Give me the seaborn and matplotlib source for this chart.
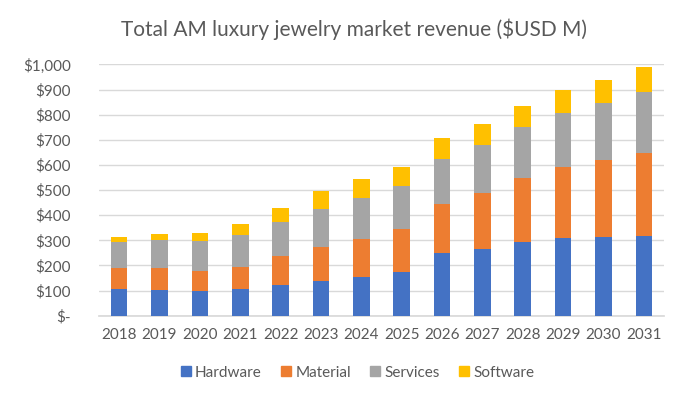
import numpy as np
import pandas as pd
import matplotlib
matplotlib.use("Agg")
import matplotlib.pyplot as plt
from matplotlib.lines import Line2D
import seaborn as sns

years = [2018, 2019, 2020, 2021, 2022, 2023, 2024, 2025, 2026, 2027, 2028, 2029, 2030, 2031]
hardware = [105, 102, 98, 107, 123, 138, 153, 175, 248, 265, 293, 310, 313, 318]
material = [86, 86, 80, 87, 116, 134, 152, 168, 198, 223, 256, 283, 306, 329]
services = [103, 114, 119, 128, 134, 152, 164, 173, 179, 191, 200, 215, 227, 243]
software = [19, 24, 32, 43, 55, 72, 73, 77, 81, 85, 85, 90, 93, 98]

series_names = ["Hardware", "Material", "Services", "Software"]
colors = ["#4472C4", "#ED7D31", "#A5A5A5", "#FFC000"]
title = "Total AM luxury jewelry market revenue ($USD M)"

sns.set_theme(style="white")
plt.rcParams["font.family"] = ["Lato", "DejaVu Sans"]

df = pd.DataFrame({"year": [str(y) for y in years],
                   "Hardware": hardware, "Material": material,
                   "Services": services, "Software": software})
cum = df[series_names].cumsum(axis=1)

fig = plt.figure(figsize=(7, 4), dpi=100)
ax = fig.add_axes([0.1414, 0.2108, 0.8072, 0.6282])

order = [str(y) for y in years]
for name, col in reversed(list(zip(series_names, colors))):
    sns.barplot(x=df["year"], y=cum[name], order=order, color=col,
                width=0.41, ax=ax, saturation=1, linewidth=0, zorder=3)

ax.set_xlim(-0.5, len(years) - 0.5)
ax.set_ylim(0, 1000)
ticks = np.arange(0, 1001, 100)
ax.set_yticks(ticks)
ax.set_yticklabels(["$-" if t == 0 else f"${t:,}" for t in ticks])
ax.yaxis.grid(True, color="#D9D9D9", linewidth=1, zorder=0)
ax.set_axisbelow(True)
for s in ["top", "right", "left"]:
    ax.spines[s].set_visible(False)
ax.spines["bottom"].set_color("#D9D9D9")
ax.set_xlabel("")
ax.set_ylabel("")
ax.tick_params(axis="both", length=0, labelsize=11, labelcolor="#595959")
ax.tick_params(axis="y", pad=20)
ax.tick_params(axis="x", pad=9)

fig.text(0.506, 0.927, title, ha="center", va="center", fontsize=15, color="#595959")

handles = [Line2D([0], [0], marker="s", linestyle="", markersize=7,
                  markerfacecolor=c, markeredgecolor=c) for c in colors]
fig.legend(handles, series_names, loc="center", bbox_to_anchor=(0.508, 0.068),
           ncol=4, frameon=False, fontsize=11, handletextpad=0.0,
           handlelength=1.2, columnspacing=1.0, labelcolor="#595959")

fig.savefig("out.png", dpi=100, facecolor="white")
